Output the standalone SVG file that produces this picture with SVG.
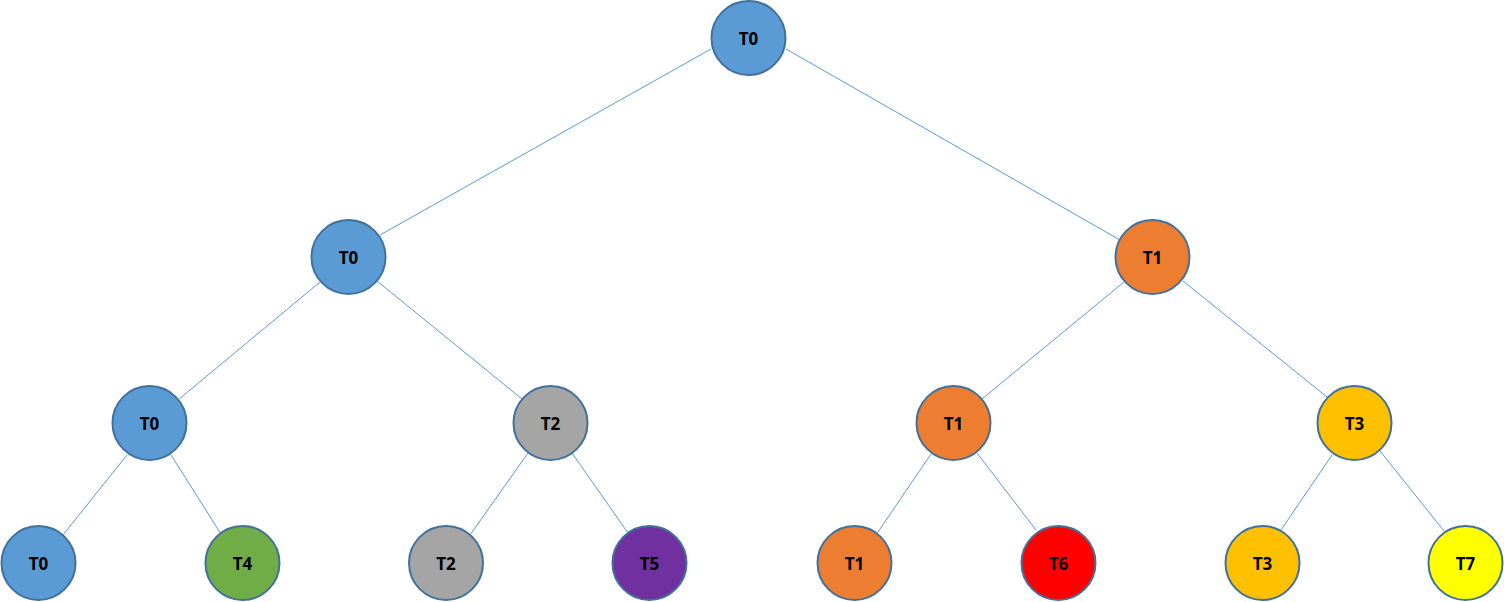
<svg xmlns="http://www.w3.org/2000/svg" width="1504" height="602" viewBox="0 0 1504 602">
<style>
.n{stroke:#41719C;stroke-width:2}
.t{font-family:"Open Sans","Liberation Sans",sans-serif;font-weight:bold;font-size:17px;fill:#000;text-anchor:middle;dominant-baseline:central}
.c line{stroke:#5B9BD5;stroke-width:1}
.blue{fill:#5B9BD5}.orange{fill:#ED7D31}.gray{fill:#A5A5A5}.gold{fill:#FFC000}
.green{fill:#70AD47}.purple{fill:#7030A0}.red{fill:#FF0000}.yellow{fill:#FFFF00}
</style>
<rect width="1504" height="602" fill="#fff"/>
<g id="connectors" class="c">
<line x1="711" y1="49" x2="380" y2="235"/>
<line x1="786" y1="49" x2="1120" y2="240"/>
<line x1="320" y1="282" x2="178" y2="400"/>
<line x1="377" y1="281" x2="522" y2="399"/>
<line x1="1124" y1="282" x2="982" y2="399"/>
<line x1="1183" y1="281" x2="1327" y2="397"/>
<line x1="127" y1="455" x2="63" y2="535"/>
<line x1="171" y1="455" x2="221" y2="534"/>
<line x1="528" y1="453" x2="470" y2="535"/>
<line x1="572" y1="453" x2="628" y2="533"/>
<line x1="931" y1="454" x2="876" y2="535"/>
<line x1="977" y1="453" x2="1036" y2="530"/>
<line x1="1332" y1="455" x2="1281" y2="530"/>
<line x1="1380" y1="451" x2="1444" y2="531"/>
</g>
<g id="root"><circle class="n blue" cx="748.5" cy="38" r="37"/><text class="t" x="748.5" y="38">T0</text></g>
<g id="l1a"><circle class="n blue" cx="348.5" cy="257" r="37"/><text class="t" x="348.5" y="257">T0</text></g>
<g id="l1b"><circle class="n orange" cx="1152.5" cy="257" r="37"/><text class="t" x="1152.5" y="257">T1</text></g>
<g id="l2a"><circle class="n blue" cx="149.5" cy="423" r="37"/><text class="t" x="149.5" y="423">T0</text></g>
<g id="l2b"><circle class="n gray" cx="550.5" cy="423" r="37"/><text class="t" x="550.5" y="423">T2</text></g>
<g id="l2c"><circle class="n orange" cx="953.5" cy="423" r="37"/><text class="t" x="953.5" y="423">T1</text></g>
<g id="l2d"><circle class="n gold" cx="1354.5" cy="423" r="37"/><text class="t" x="1354.5" y="423">T3</text></g>
<g id="l3a"><circle class="n blue" cx="38.5" cy="563" r="37"/><text class="t" x="38.5" y="563">T0</text></g>
<g id="l3b"><circle class="n green" cx="242.5" cy="563" r="37"/><text class="t" x="242.5" y="563">T4</text></g>
<g id="l3c"><circle class="n gray" cx="446" cy="563" r="37"/><text class="t" x="446" y="563">T2</text></g>
<g id="l3d"><circle class="n purple" cx="649.5" cy="563" r="37"/><text class="t" x="649.5" y="563">T5</text></g>
<g id="l3e"><circle class="n orange" cx="854.5" cy="563" r="37"/><text class="t" x="854.5" y="563">T1</text></g>
<g id="l3f"><circle class="n red" cx="1058.5" cy="563" r="37"/><text class="t" x="1058.5" y="563">T6</text></g>
<g id="l3g"><circle class="n gold" cx="1262.5" cy="563" r="37"/><text class="t" x="1262.5" y="563">T3</text></g>
<g id="l3h"><circle class="n yellow" cx="1465.5" cy="563" r="37"/><text class="t" x="1465.5" y="563">T7</text></g>
</svg>
